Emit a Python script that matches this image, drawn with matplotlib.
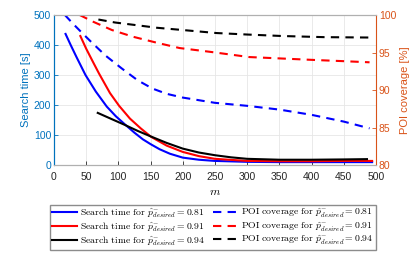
import numpy as np
import matplotlib
matplotlib.use('Agg')
import matplotlib.pyplot as plt
from matplotlib.lines import Line2D

plt.rcParams['mathtext.fontset'] = 'cm'
plt.rcParams['font.family'] = ['Liberation Sans', 'DejaVu Sans']

# search time [s] per desired probability
m_081 = [18, 26, 35, 49, 65, 82, 96, 110, 125, 138, 150, 164, 180, 200, 225, 250,
         300, 350, 400, 450, 494]
t_081 = [437, 400, 360, 300, 245, 195, 163, 136, 108, 86, 70, 53, 38, 25, 18, 14,
         11, 10, 10, 10, 10]
m_091 = [41, 50, 61, 70, 87, 101, 118, 135, 151, 175, 200, 225, 250, 300, 350, 400,
         450, 494]
t_091 = [430, 388, 342, 305, 240, 198, 155, 122, 94, 65, 44, 30, 21, 14, 13, 13,
         14, 14]
m_094 = [68, 90, 110, 130, 151, 175, 200, 225, 250, 275, 300, 350, 400, 450, 486]
t_094 = [174, 153, 134, 114, 95, 74, 55, 42, 33, 26, 21, 18, 18, 19, 20]

# POI coverage [%]
c_m_081 = [17, 30, 45, 58, 80, 105, 130, 153, 175, 200, 250, 300, 350, 400, 450, 490]
c_081 = [100, 98.8, 97.5, 96.4, 94.6, 92.9, 91.3, 90.2, 89.5, 89.0, 88.3, 87.9,
         87.4, 86.7, 85.8, 84.9]
c_m_091 = [40, 61, 90, 123, 160, 195, 242, 303, 355, 407, 450, 490]
c_091 = [100, 99.1, 98.0, 97.1, 96.3, 95.6, 95.1, 94.4, 94.2, 94.0, 93.85, 93.7]
c_m_094 = [69, 95, 123, 160, 200, 252, 300, 355, 420, 490]
c_094 = [99.4, 99.0, 98.7, 98.3, 98.0, 97.6, 97.4, 97.2, 97.05, 97.0]

p_labels = ['0.81', '0.91', '0.94']
colors = ['#0000ff', '#ff0000', '#000000']
left_col = '#0072BD'
right_col = '#D95319'

fig = plt.figure(figsize=(4.15, 2.78), dpi=100)
ax = fig.add_axes([0.130, 0.406, 0.776, 0.540])
ax2 = ax.twinx()

dash = (0, (4, 3))
ax.plot(m_081, t_081, color=colors[0], lw=1.5)
ax.plot(m_091, t_091, color=colors[1], lw=1.5)
ax.plot(m_094, t_094, color=colors[2], lw=1.5)
ax2.plot(c_m_081, c_081, color=colors[0], lw=1.5, ls=dash)
ax2.plot(c_m_091, c_091, color=colors[1], lw=1.5, ls=dash)
ax2.plot(c_m_094, c_094, color=colors[2], lw=1.5, ls=dash)

ax.set_xlim(0, 500)
ax.set_ylim(0, 500)
ax2.set_ylim(80, 100)
ax.set_xticks(np.arange(0, 501, 50))
ax.set_yticks(np.arange(0, 501, 100))
ax2.set_yticks(np.arange(80, 101, 5))
ax.grid(True, color='#e6e6e6', lw=0.6)
ax.set_axisbelow(True)

for a in (ax, ax2):
    a.tick_params(direction='in', length=3, width=0.6, labelsize=7.5, pad=2)
    a.spines['top'].set_color('#b0b0b0')
    a.spines['bottom'].set_color('#b0b0b0')
ax.spines['left'].set_color(left_col)
ax2.spines['left'].set_color(left_col)
ax2.spines['right'].set_color(right_col)
ax.spines['right'].set_visible(False)
ax.tick_params(axis='y', colors=left_col)
ax2.tick_params(axis='y', colors=right_col)
ax.tick_params(axis='x', colors='#262626', pad=5)

ax.set_ylabel('Search time [s]', color=left_col, fontsize=8, labelpad=2)
ax2.set_ylabel('POI coverage [%]', color=right_col, fontsize=8, labelpad=3)
ax.set_xlabel(r'$m$', fontsize=8.5, labelpad=3)

handles = []
labels = []
for c, p in zip(colors, p_labels):
    handles.append(Line2D([], [], color=c, lw=1.5))
    labels.append(r'$\mathrm{Search\ time\ for}\ \hat{p}^{-}_{desired} = %s$' % p)
for c, p in zip(colors, p_labels):
    handles.append(Line2D([], [], color=c, lw=1.5, ls=dash))
    labels.append(r'$\mathrm{POI\ coverage\ for}\ \hat{p}^{-}_{desired} = %s$' % p)

fig.legend(handles, labels, ncol=2, loc='upper center', bbox_to_anchor=(0.513, 0.263),
           fontsize=7, frameon=True, fancybox=False, edgecolor='#707070',
           handlelength=2.6, handletextpad=0.3, columnspacing=0.8,
           labelspacing=0.02, borderpad=0.2, borderaxespad=0)

fig.savefig('out.png', dpi=100)
